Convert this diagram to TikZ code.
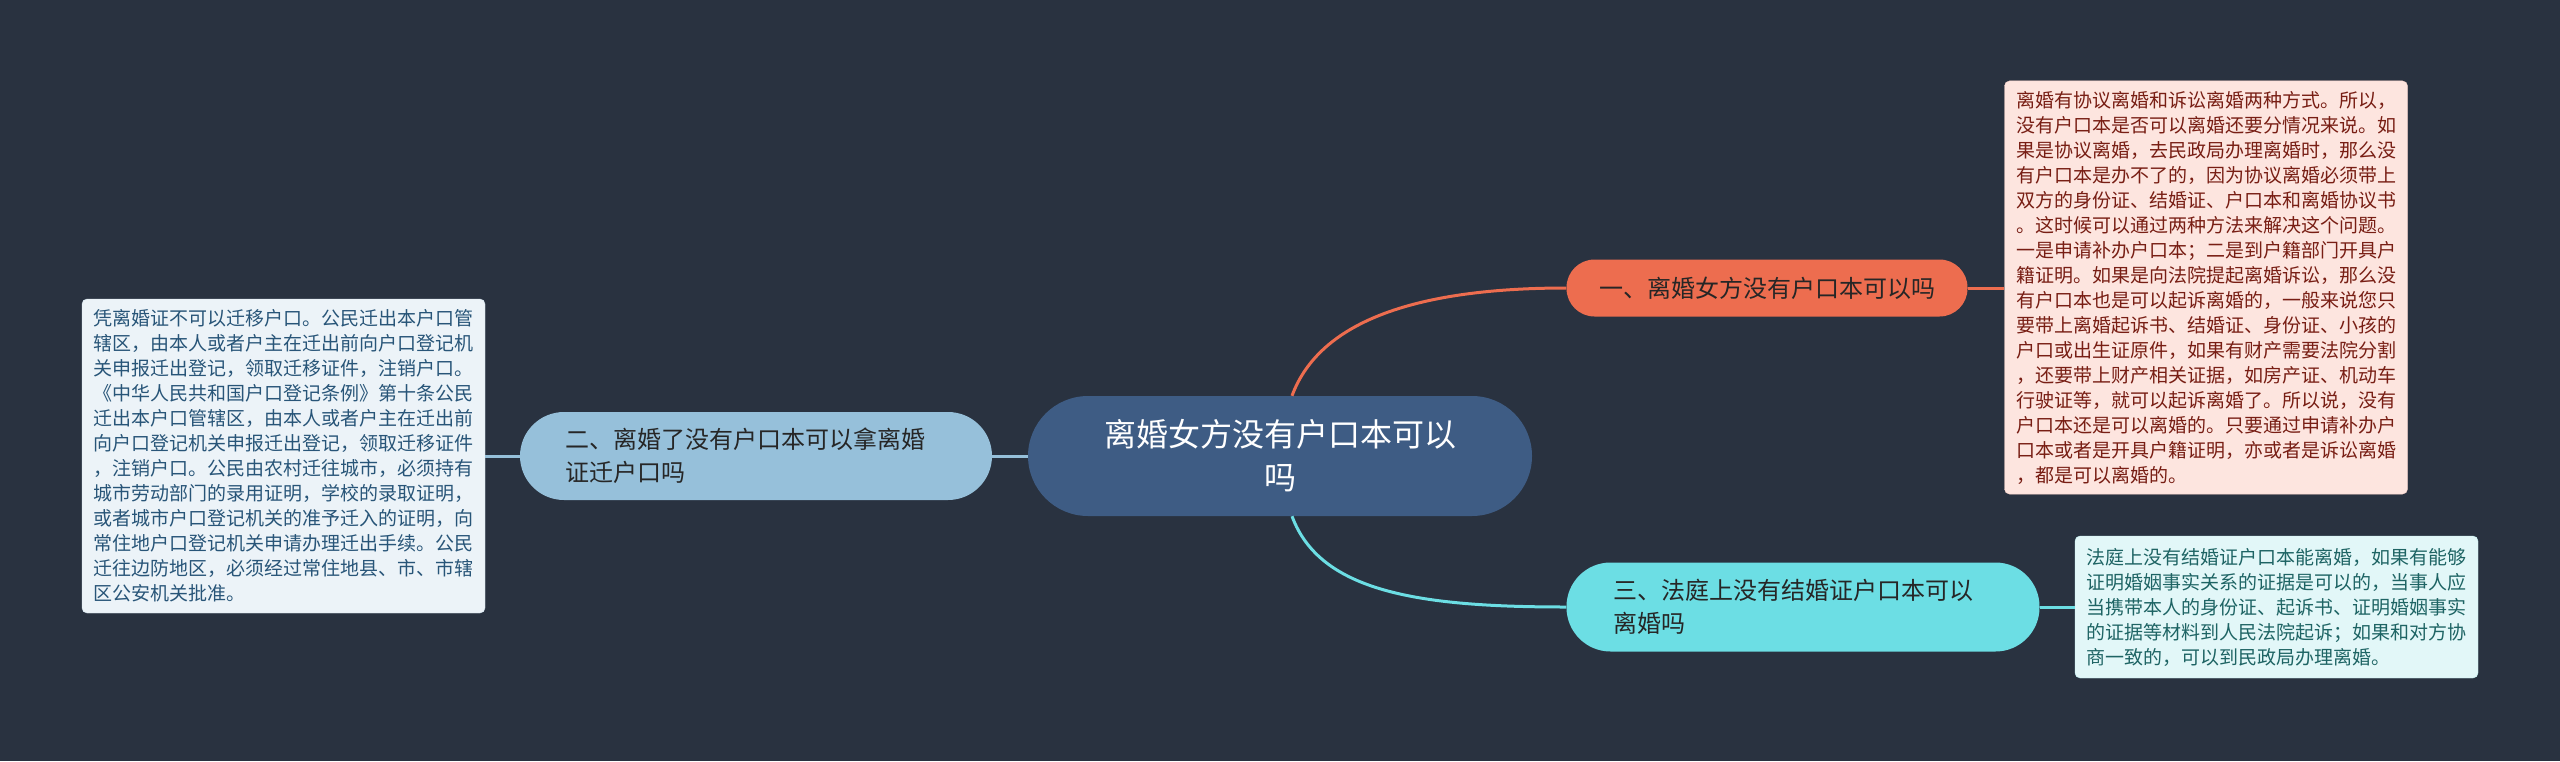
\documentclass[tikz,border=0pt]{standalone}
\usepackage{fontspec}
\setmainfont{Noto Sans CJK SC}
\usepackage{xcolor}
\usepackage{tikz}
\usetikzlibrary{positioning}

\definecolor{bgnavy}{RGB}{41,50,64}
\definecolor{rootblue}{RGB}{62,92,132}
\definecolor{tOrange}{RGB}{237,109,79}
\definecolor{tBlue}{RGB}{150,192,218}
\definecolor{tCyan}{RGB}{108,222,228}
\definecolor{nPink}{RGB}{253,229,223}
\definecolor{nPinkText}{RGB}{120,30,20}
\definecolor{nGrey}{RGB}{236,243,248}
\definecolor{nGreyText}{RGB}{40,85,120}
\definecolor{nCyan}{RGB}{226,247,248}
\definecolor{nCyanText}{RGB}{30,100,100}

\begin{document}
\begin{tikzpicture}[
    x=1pt, y=-1pt,
    root/.style={fill=rootblue, text=white, rounded corners=60pt, minimum width=504pt, minimum height=120pt, align=center, font=\fontsize{32}{43}\selectfont},
    topic/.style={rounded corners=28pt, minimum height=57pt, text=black!85, font=\fontsize{24}{33}\selectfont, inner sep=0pt},
    note/.style={rounded corners=5pt, minimum width=403pt, align=left, inner sep=10pt, font=\fontsize{19}{25}\selectfont},
    link/.style={line width=3pt}
]

    % Background
    \fill[bgnavy] (0,0) rectangle (2560,761);
    \useasboundingbox (0,0) rectangle (2560,761);

    % Central topic
    \node[root] (root) at (1280, 456) {离婚女方没有户口本可以\\吗};

    % Branches
    \node[topic, fill=tOrange, minimum width=401pt] (q1) at (1767, 288) {一、离婚女方没有户口本可以吗};
    \node[topic, fill=tBlue, minimum width=472pt, minimum height=88pt, rounded corners=44pt, text width=382pt, align=left] (q2) at (756, 456) {二、离婚了没有户口本可以拿离婚\\证迁户口吗};
    \node[topic, fill=tCyan, minimum width=473pt, minimum height=89pt, rounded corners=44pt, text width=380pt, align=left] (q3) at (1803, 607) {三、法庭上没有结婚证户口本可以\\离婚吗};

    % Notes
    \node[note, fill=nPink, draw=tOrange!30, text=nPinkText, minimum height=411pt] (n1) at (2206, 287.5) {离婚有协议离婚和诉讼离婚两种方式。所以，\\没有户口本是否可以离婚还要分情况来说。如\\果是协议离婚，去民政局办理离婚时，那么没\\有户口本是办不了的，因为协议离婚必须带上\\双方的身份证、结婚证、户口本和离婚协议书\\。这时候可以通过两种方法来解决这个问题。\\一是申请补办户口本；二是到户籍部门开具户\\籍证明。如果是向法院提起离婚诉讼，那么没\\有户口本也是可以起诉离婚的，一般来说您只\\要带上离婚起诉书、结婚证、身份证、小孩的\\户口或出生证原件，如果有财产需要法院分割\\，还要带上财产相关证据，如房产证、机动车\\行驶证等，就可以起诉离婚了。所以说，没有\\户口本还是可以离婚的。只要通过申请补办户\\口本或者是开具户籍证明，亦或者是诉讼离婚\\，都是可以离婚的。};
    \node[note, fill=nGrey, draw=tBlue!40, text=nGreyText, minimum height=314pt] (n2) at (283.5, 456) {凭离婚证不可以迁移户口。公民迁出本户口管\\辖区，由本人或者户主在迁出前向户口登记机\\关申报迁出登记，领取迁移证件，注销户口。\\《中华人民共和国户口登记条例》第十条公民\\迁出本户口管辖区，由本人或者户主在迁出前\\向户口登记机关申报迁出登记，领取迁移证件\\，注销户口。公民由农村迁往城市，必须持有\\城市劳动部门的录用证明，学校的录取证明，\\或者城市户口登记机关的准予迁入的证明，向\\常住地户口登记机关申请办理迁出手续。公民\\迁往边防地区，必须经过常住地县、市、市辖\\区公安机关批准。};
    \node[note, fill=nCyan, draw=tCyan!40, text=nCyanText, minimum height=142pt] (n3) at (2276.5, 607) {法庭上没有结婚证户口本能离婚，如果有能够\\证明婚姻事实关系的证据是可以的，当事人应\\当携带本人的身份证、起诉书、证明婚姻事实\\的证据等材料到人民法院起诉；如果和对方协\\商一致的，可以到民政局办理离婚。};

    % Connectors
    \draw[link, tOrange] ([xshift=12pt]root.north) .. controls +(28,-76) and +(-147,0) .. (q1.west);
    \draw[link, tCyan] ([xshift=12pt]root.south) .. controls +(28,76) and +(-147,0) .. (q3.west);
    \draw[link, tBlue] (root.west) -- (q2.east);
    \draw[link, tOrange] (q1.east) -- (n1.west |- q1.east);
    \draw[link, tBlue] (q2.west) -- (n2.east |- q2.west);
    \draw[link, tCyan] (q3.east) -- (n3.west |- q3.east);

\end{tikzpicture}
\end{document}
